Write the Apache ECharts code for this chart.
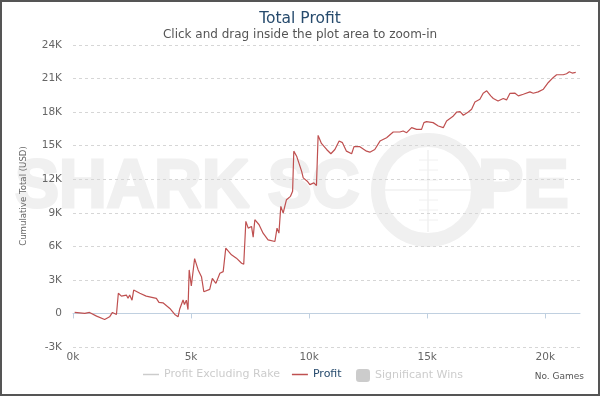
<!DOCTYPE html>
<html>
<head>
<meta charset="utf-8">
<script src="https://cdn.jsdelivr.net/npm/echarts@6/dist/echarts.min.js"></script>
<style>
html,body{margin:0;padding:0;background:#fff;}
#chart{width:600px;height:396px;}
</style>
</head>
<body>
<div id="chart"></div>
<script>
// Number of games played (x) and cumulative profit in USD (y)
const games = [70,500,700,1000,1340,1550,1670,1840,1920,2050,2260,2330,2400,2500,2570,2830,3100,3530,3640,3810,4100,4310,4450,
  4520,4600,4660,4720,4800,4870,4920,5010,5150,5300,5440,5540,5790,5900,6050,6220,6360,6470,6710,6920,7140,7230,
  7320,7420,7560,7630,7700,7880,8050,8260,8550,8640,8720,8800,8900,9040,9210,9300,9350,9470,9680,9750,9920,10030,
  10200,10310,10380,10520,10740,10920,11090,11270,11410,11580,11800,11900,12150,12430,12570,12780,13000,13280,13560,
  13840,13980,14130,14340,14550,14760,14860,14970,15250,15470,15680,15820,16080,16250,16390,16530,16740,16880,17020,
  17230,17370,17520,17690,17800,18000,18220,18360,18500,18720,18860,19070,19350,19490,19700,19920,20130,20340,20480,
  20760,20900,21020,21140,21290];
const profit = [90,0,90,-240,-540,-300,90,-90,1800,1550,1640,1350,1640,1190,2090,1800,1550,1350,990,950,450,-90,-300,
  400,250,1200,800,1190,350,3890,2450,4900,3890,3290,1940,2150,3140,2690,3590,3740,5840,5240,4940,4490,4400,
  8230,7630,7780,6820,8380,7930,7180,6580,6430,7630,7180,9570,8980,10170,10470,10920,14510,14060,12720,12120,11820,11520,
  11670,11430,15920,15200,14660,14280,14660,15410,15270,14510,14280,14910,14910,14510,14420,14660,15410,15710,16220,
  16220,16310,16160,16610,16460,16460,17060,17150,17060,16760,16610,17210,17600,18010,18050,17720,18010,18260,18910,
  19150,19690,19900,19450,19220,19000,19220,19090,19670,19690,19450,19600,19810,19690,19810,20050,20650,21100,21340,
  21340,21430,21610,21490,21550];
const seriesNames = ['Profit Excluding Rake','Profit','Significant Wins'];
const xTicks = [0,5000,10000,15000,20000];
const yTicks = [-3000,0,3000,6000,9000,12000,15000,18000,21000,24000];

const profitData = games.map((g,i)=>[g,profit[i]]);
const wm = '#f0f0f0';
const wmText = {fill:wm, stroke:wm, lineWidth:3, fontSize:68, fontWeight:'bold', fontFamily:'Liberation Sans', verticalAlign:'middle', align:'left'};
const chart = echarts.init(document.getElementById('chart'), null, {renderer:'canvas'});
chart.setOption({
  animation:false,
  backgroundColor:'#fff',
  textStyle:{fontFamily:'DejaVu Sans'},
  title:{
    text:'Total Profit', subtext:'Click and drag inside the plot area to zoom-in',
    left:'center', top:11, padding:0, itemGap:2,
    textStyle:{fontSize:15.5,fontWeight:'normal',color:'#274b6d',fontFamily:'DejaVu Sans'},
    subtextStyle:{fontSize:12,color:'#555',fontFamily:'DejaVu Sans'}
  },
  grid:{left:73,right:20,top:45,bottom:49,containLabel:false},
  xAxis:{
    type:'value', min:xTicks[0], max:21470, interval:5000,
    axisLine:{show:true,lineStyle:{color:'#C0D0E0',width:1}},
    axisTick:{show:true,length:5,lineStyle:{color:'#C0D0E0'}},
    splitLine:{show:false},
    axisLabel:{color:'#666',fontSize:10.5,margin:5,showMaxLabel:false,
      formatter:v=>(v/1000)+'k'}
  },
  yAxis:{
    type:'value', min:yTicks[0], max:yTicks[yTicks.length-1], interval:3000,
    name:'Cumulative Total (USD)', nameLocation:'middle', nameGap:45,
    nameTextStyle:{color:'#666',fontSize:8.6},
    axisLine:{show:false}, axisTick:{show:false},
    splitLine:{show:true,lineStyle:{color:'#d6d6d6',type:[3,3],width:1}},
    axisLabel:{color:'#666',fontSize:10.5,margin:11,
      formatter:v=>v===0?'0':(v/1000)+'K'}
  },
  legend:[{
    data:[{name:seriesNames[0],icon:'rect'},{name:seriesNames[1],icon:'rect'}],
    left:143, top:369, padding:0, itemGap:12, itemWidth:16, itemHeight:1.5, itemTextGap:5,
    selected:{'Profit Excluding Rake':false},
    inactiveColor:'#ccc',
    itemStyle:{borderWidth:0},
    textStyle:{fontSize:11,color:'#274b6d'}
  },{
    data:[{name:seriesNames[2],icon:'roundRect'}],
    left:356, top:369, padding:0, itemWidth:14, itemHeight:13, itemTextGap:7,
    selected:{'Significant Wins':false},
    inactiveColor:'#ccc',
    textStyle:{fontSize:11,color:'#274b6d'}
  }],
  graphic:[
    {type:'text', x:15, y:188, z:-10, scaleX:0.97, silent:true, style:Object.assign({text:'SHARK SC'}, wmText)},
    {type:'text', x:478, y:188, z:-10, silent:true, style:Object.assign({text:'PE'}, wmText)},
    {type:'circle', z:-10, silent:true, shape:{cx:428,cy:190,r:50}, style:{fill:null,stroke:wm,lineWidth:14}},
    {type:'line', z:-10, silent:true, shape:{x1:428,y1:150,x2:428,y2:232}, style:{stroke:wm,lineWidth:1.5}},
    {type:'line', z:-10, silent:true, shape:{x1:385,y1:190,x2:471,y2:190}, style:{stroke:wm,lineWidth:1.5}},
    {type:'line', z:-10, silent:true, shape:{x1:419,y1:160,x2:438,y2:160}, style:{stroke:wm,lineWidth:1}},
    {type:'line', z:-10, silent:true, shape:{x1:419,y1:170,x2:438,y2:170}, style:{stroke:wm,lineWidth:1}},
    {type:'line', z:-10, silent:true, shape:{x1:419,y1:180,x2:438,y2:180}, style:{stroke:wm,lineWidth:1}},
    {type:'line', z:-10, silent:true, shape:{x1:419,y1:200,x2:438,y2:200}, style:{stroke:wm,lineWidth:1}},
    {type:'line', z:-10, silent:true, shape:{x1:419,y1:210,x2:438,y2:210}, style:{stroke:wm,lineWidth:1}},
    {type:'line', z:-10, silent:true, shape:{x1:419,y1:220,x2:438,y2:220}, style:{stroke:wm,lineWidth:1}},
    {type:'text', right:16, top:372, silent:true,
      style:{text:'No. Games', fill:'#555', fontSize:9, fontFamily:'DejaVu Sans'}},
    {type:'rect', silent:true, z:100, shape:{x:1,y:1,width:598,height:394},
      style:{fill:null,stroke:'#555',lineWidth:2}}
  ],
  series:[
    {name:seriesNames[0], type:'line', data:[], symbol:'none', showSymbol:false, color:'#aaa', lineStyle:{width:1}},
    {name:seriesNames[1], type:'line', data:profitData, showSymbol:false, symbol:'none',
      color:'#bf5050', lineStyle:{width:1.2,color:'#bf5050'}, z:3},
    {name:seriesNames[2], type:'line', data:[], symbol:'none', showSymbol:false, color:'#bbb'}
  ]
});
</script>
</body>
</html>
